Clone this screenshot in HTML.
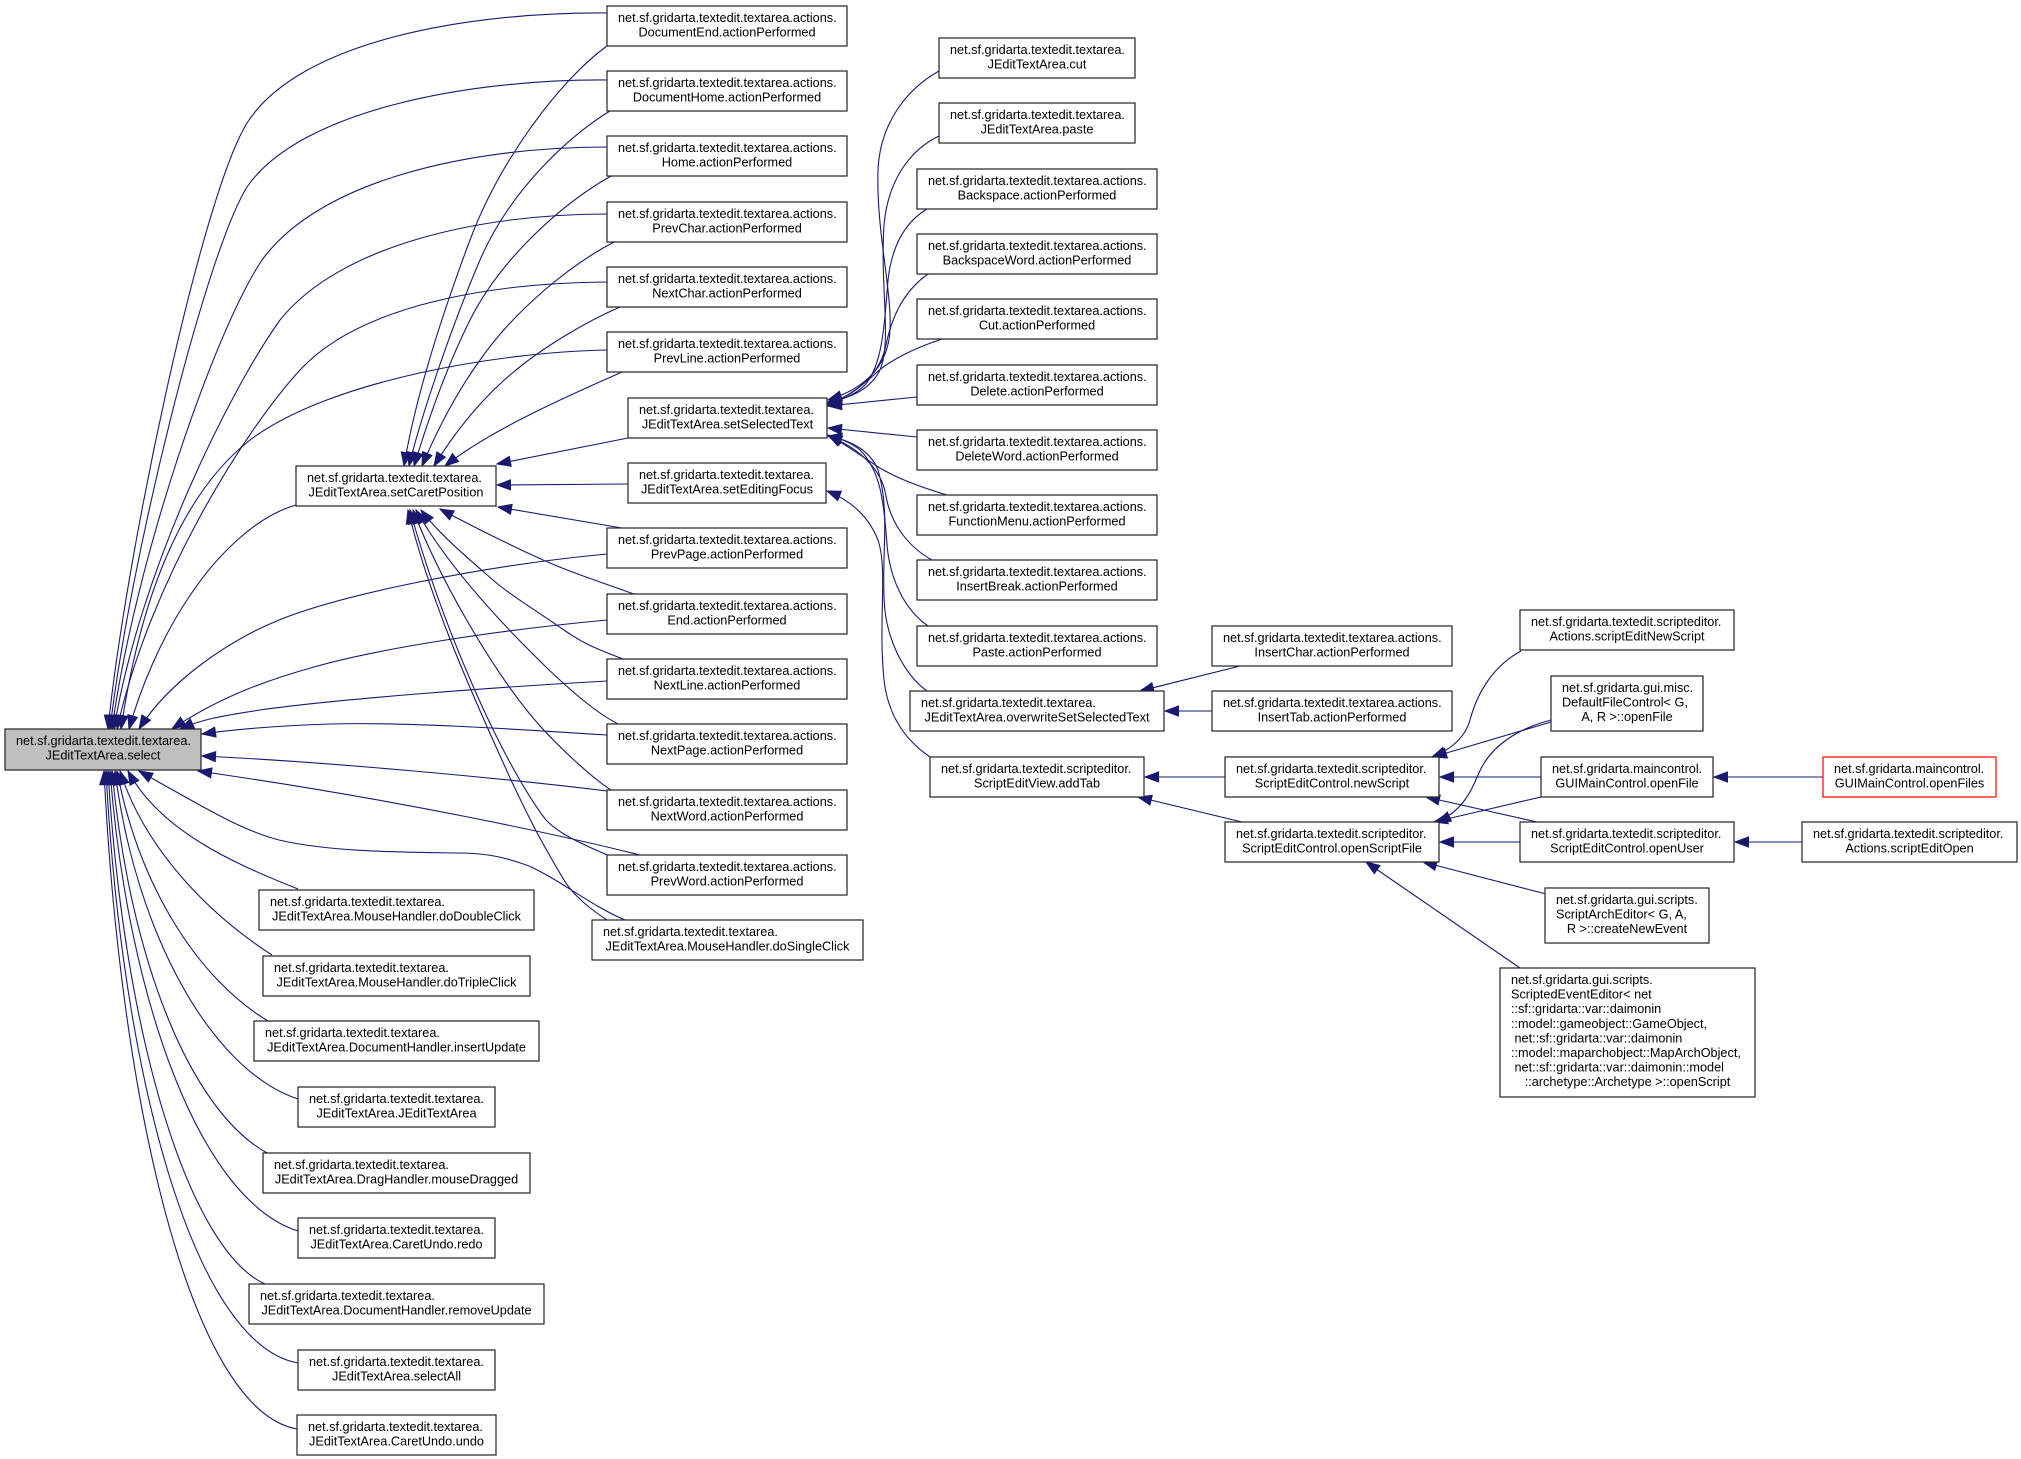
<!DOCTYPE html>
<html><head><meta charset="utf-8"><style>
html,body{margin:0;padding:0;background:#fff;}
svg{display:block;}
.e{fill:none;stroke:#191970;stroke-width:1.1;marker-end:url(#ah);}
.n{fill:#fff;stroke:#222;stroke-width:1.2;}
text{font-family:"Liberation Sans",Arial,Helvetica,sans-serif;font-size:12.7px;fill:#000;}
.c{text-anchor:middle;}
</style></head><body>
<svg width="2021" height="1459" viewBox="0 0 2021 1459" xmlns="http://www.w3.org/2000/svg">
<defs>
<marker id="ah" markerUnits="userSpaceOnUse" markerWidth="16" markerHeight="12" refX="13.5" refY="5" orient="auto" overflow="visible"><path d="M0,0 L13.5,5 L0,10 z" fill="#191970" stroke="#191970" stroke-width="1"/></marker>
</defs>
<rect width="2021" height="1459" fill="#fff"/>
<!-- edges into select (top) -->
<path class="e" d="M607,13 C470,12 300,40 247,123 C200,200 125,560 108,729"/>
<path class="e" d="M607,80 C470,79 300,110 247,187 C205,255 130,560 110,729"/>
<path class="e" d="M607,147 C470,147 320,180 262,260 C215,330 135,560 112,729"/>
<path class="e" d="M607,214 C480,214 340,245 280,320 C230,390 140,570 114,729"/>
<path class="e" d="M607,282 C490,283 360,305 300,370 C245,430 150,580 117,729"/>
<path class="e" d="M607,350 C500,352 330,380 250,440 C180,495 140,600 121,729"/>
<path class="e" d="M296,505 C260,515 220,550 189,597 C160,640 140,690 129,729"/>
<path class="e" d="M607,554 C480,566 340,595 279,620 C230,640 170,680 139,729"/>
<path class="e" d="M607,620 C500,630 380,648 314,667 C260,682 215,700 172,729"/>
<path class="e" d="M607,681 C480,688 330,700 260,710 C220,716 200,720 180,729"/>
<path class="e" d="M607,735 C500,728 400,722 330,724 C270,726 230,730 202,734"/>
<path class="e" d="M607,791 C500,778 330,762 202,756"/>
<path class="e" d="M640,855 C560,835 400,800 198,771"/>
<!-- edges into select (bottom) -->
<path class="e" d="M625,920 C590,905 560,880 529,866 C500,855 480,853 457,853 C400,852 330,852 279,840 C240,830 200,805 139,771"/>
<path class="e" d="M298,889 C230,862 160,830 128,771"/>
<path class="e" d="M272,955 C210,915 145,850 120,771"/>
<path class="e" d="M268,1021 C200,980 140,890 117,771"/>
<path class="e" d="M298,1099 C210,1070 135,930 115,771"/>
<path class="e" d="M267,1153 C190,1110 130,960 112,771"/>
<path class="e" d="M298,1231 C200,1200 128,1000 110,771"/>
<path class="e" d="M265,1284 C190,1250 124,1040 108,771"/>
<path class="e" d="M298,1363 C195,1345 122,1080 106,771"/>
<path class="e" d="M297,1429 C190,1410 120,1100 104,771"/>
<!-- edges into setCaretPosition -->
<path class="e" d="M607,46 C560,80 500,160 470,240 C440,320 415,400 404,466"/>
<path class="e" d="M610,111 C570,135 510,190 480,260 C450,330 420,420 409,466"/>
<path class="e" d="M611,176 C560,205 500,260 470,320 C445,370 425,430 414,466"/>
<path class="e" d="M614,242 C570,265 515,310 480,360 C455,395 435,435 422,466"/>
<path class="e" d="M620,307 C590,320 545,345 510,375 C475,405 450,440 434,466"/>
<path class="e" d="M622,372 C570,395 490,430 445,466"/>
<path class="e" d="M628,438 L497,464"/>
<path class="e" d="M628,484 L497,485"/>
<path class="e" d="M622,528 L498,507"/>
<path class="e" d="M634,594 C600,582 570,572 543,560 C510,545 470,525 440,509"/>
<path class="e" d="M623,659 C600,650 585,645 564,630 C540,613 510,595 493,580 C470,560 440,535 421,510"/>
<path class="e" d="M618,724 C595,712 570,690 546,667 C510,632 450,570 416,510"/>
<path class="e" d="M611,790 C595,780 555,745 529,713 C490,665 440,580 413,510"/>
<path class="e" d="M607,855 C585,845 560,835 546,820 C500,760 440,620 410,510"/>
<path class="e" d="M607,920 C595,912 575,898 564,880 C540,840 530,820 511,780 C470,690 430,600 408,510"/>
<!-- edges into setSelectedText / setEditingFocus -->
<path class="e" d="M939,71 C905,90 880,125 878,170 C876,230 892,290 890,330 C888,370 860,390 828,400"/>
<path class="e" d="M939,136 C910,150 888,180 884,225 C880,290 892,340 880,370 C870,390 850,398 828,402"/>
<path class="e" d="M927,209 C905,222 892,245 888,280 C884,330 882,365 865,385 C855,395 842,400 828,403"/>
<path class="e" d="M928,274 C905,290 892,315 886,345 C880,375 855,395 828,404"/>
<path class="e" d="M942,339 C915,348 890,360 876,373 C860,388 845,398 828,405"/>
<path class="e" d="M917,397 L828,406"/>
<path class="e" d="M917,437 L828,428"/>
<path class="e" d="M947,495 C920,487 895,477 880,468 C860,455 845,444 828,435"/>
<path class="e" d="M932,560 C905,545 890,520 886,496 C882,470 860,448 828,436"/>
<path class="e" d="M928,626 C905,610 890,580 887,545 C884,500 880,470 860,450 C850,442 840,438 828,436"/>
<path class="e" d="M927,691 C905,675 885,640 884,597 C882,550 890,510 878,470 C870,450 850,440 828,436"/>
<path class="e" d="M930,757 C905,740 888,715 884,680 C878,620 888,570 878,540 C868,515 850,500 827,491"/>
<!-- right side edges -->
<path class="e" d="M1240,666 L1140,691"/>
<path class="e" d="M1212,711 L1165,711"/>
<path class="e" d="M1225,777 L1145,777"/>
<path class="e" d="M1242,822 L1138,797"/>
<path class="e" d="M1521,651 C1495,665 1478,690 1470,720 C1465,738 1450,750 1432,757"/>
<path class="e" d="M1551,722 L1433,757"/>
<path class="e" d="M1551,720 C1520,728 1490,745 1478,775 C1470,795 1460,812 1437,822"/>
<path class="e" d="M1541,777 L1440,777"/>
<path class="e" d="M1541,797 L1434,822"/>
<path class="e" d="M1537,822 L1426,797"/>
<path class="e" d="M1520,842 L1440,842"/>
<path class="e" d="M1546,894 L1423,862"/>
<path class="e" d="M1520,968 L1366,862"/>
<path class="e" d="M1823,777 L1714,777"/>
<path class="e" d="M1802,842 L1735,842"/>

<!-- nodes -->
<rect class="n" x="5" y="729" width="196" height="41" style="fill:#bfbfbf"/>
<text x="16" y="745">net.sf.gridarta.textedit.textarea.</text><text class="c" x="103" y="759.6">JEditTextArea.select</text>

<rect class="n" x="296" y="466" width="200" height="40"/>
<text x="307" y="482">net.sf.gridarta.textedit.textarea.</text><text class="c" x="396" y="496.6">JEditTextArea.setCaretPosition</text>

<rect class="n" x="259" y="890" width="275" height="40"/>
<text x="270" y="906">net.sf.gridarta.textedit.textarea.</text><text class="c" x="396.5" y="920.6">JEditTextArea.MouseHandler.doDoubleClick</text>
<rect class="n" x="263" y="956" width="267" height="40"/>
<text x="274" y="972">net.sf.gridarta.textedit.textarea.</text><text class="c" x="396.5" y="986.6">JEditTextArea.MouseHandler.doTripleClick</text>
<rect class="n" x="254" y="1021" width="285" height="40"/>
<text x="265" y="1037">net.sf.gridarta.textedit.textarea.</text><text class="c" x="396.5" y="1051.6">JEditTextArea.DocumentHandler.insertUpdate</text>
<rect class="n" x="298" y="1087" width="197" height="40"/>
<text x="309" y="1103">net.sf.gridarta.textedit.textarea.</text><text class="c" x="396.5" y="1117.6">JEditTextArea.JEditTextArea</text>
<rect class="n" x="263" y="1153" width="267" height="40"/>
<text x="274" y="1169">net.sf.gridarta.textedit.textarea.</text><text class="c" x="396.5" y="1183.6">JEditTextArea.DragHandler.mouseDragged</text>
<rect class="n" x="298" y="1218" width="197" height="40"/>
<text x="309" y="1234">net.sf.gridarta.textedit.textarea.</text><text class="c" x="396.5" y="1248.6">JEditTextArea.CaretUndo.redo</text>
<rect class="n" x="249" y="1284" width="295" height="40"/>
<text x="260" y="1300">net.sf.gridarta.textedit.textarea.</text><text class="c" x="396.5" y="1314.6">JEditTextArea.DocumentHandler.removeUpdate</text>
<rect class="n" x="298" y="1350" width="197" height="40"/>
<text x="309" y="1366">net.sf.gridarta.textedit.textarea.</text><text class="c" x="396.5" y="1380.6">JEditTextArea.selectAll</text>
<rect class="n" x="297" y="1415" width="199" height="40"/>
<text x="308" y="1431">net.sf.gridarta.textedit.textarea.</text><text class="c" x="396.5" y="1445.6">JEditTextArea.CaretUndo.undo</text>

<rect class="n" x="607" y="6" width="240" height="40"/>
<text x="618" y="22">net.sf.gridarta.textedit.textarea.actions.</text><text class="c" x="727" y="36.6">DocumentEnd.actionPerformed</text>
<rect class="n" x="607" y="71" width="240" height="40"/>
<text x="618" y="87">net.sf.gridarta.textedit.textarea.actions.</text><text class="c" x="727" y="101.6">DocumentHome.actionPerformed</text>
<rect class="n" x="607" y="136" width="240" height="40"/>
<text x="618" y="152">net.sf.gridarta.textedit.textarea.actions.</text><text class="c" x="727" y="166.6">Home.actionPerformed</text>
<rect class="n" x="607" y="202" width="240" height="40"/>
<text x="618" y="218">net.sf.gridarta.textedit.textarea.actions.</text><text class="c" x="727" y="232.6">PrevChar.actionPerformed</text>
<rect class="n" x="607" y="267" width="240" height="40"/>
<text x="618" y="283">net.sf.gridarta.textedit.textarea.actions.</text><text class="c" x="727" y="297.6">NextChar.actionPerformed</text>
<rect class="n" x="607" y="332" width="240" height="40"/>
<text x="618" y="348">net.sf.gridarta.textedit.textarea.actions.</text><text class="c" x="727" y="362.6">PrevLine.actionPerformed</text>
<rect class="n" x="628" y="398" width="199" height="40"/>
<text x="639" y="414">net.sf.gridarta.textedit.textarea.</text><text class="c" x="727.5" y="428.6">JEditTextArea.setSelectedText</text>
<rect class="n" x="628" y="463" width="198" height="40"/>
<text x="639" y="479">net.sf.gridarta.textedit.textarea.</text><text class="c" x="727" y="493.6">JEditTextArea.setEditingFocus</text>
<rect class="n" x="607" y="528" width="240" height="40"/>
<text x="618" y="544">net.sf.gridarta.textedit.textarea.actions.</text><text class="c" x="727" y="558.6">PrevPage.actionPerformed</text>
<rect class="n" x="607" y="594" width="240" height="40"/>
<text x="618" y="610">net.sf.gridarta.textedit.textarea.actions.</text><text class="c" x="727" y="624.6">End.actionPerformed</text>
<rect class="n" x="607" y="659" width="240" height="40"/>
<text x="618" y="675">net.sf.gridarta.textedit.textarea.actions.</text><text class="c" x="727" y="689.6">NextLine.actionPerformed</text>
<rect class="n" x="607" y="724" width="240" height="40"/>
<text x="618" y="740">net.sf.gridarta.textedit.textarea.actions.</text><text class="c" x="727" y="754.6">NextPage.actionPerformed</text>
<rect class="n" x="607" y="790" width="240" height="40"/>
<text x="618" y="806">net.sf.gridarta.textedit.textarea.actions.</text><text class="c" x="727" y="820.6">NextWord.actionPerformed</text>
<rect class="n" x="607" y="855" width="240" height="40"/>
<text x="618" y="871">net.sf.gridarta.textedit.textarea.actions.</text><text class="c" x="727" y="885.6">PrevWord.actionPerformed</text>
<rect class="n" x="592" y="920" width="271" height="40"/>
<text x="603" y="936">net.sf.gridarta.textedit.textarea.</text><text class="c" x="727.5" y="950.6">JEditTextArea.MouseHandler.doSingleClick</text>

<rect class="n" x="939" y="38" width="196" height="40"/>
<text x="950" y="54">net.sf.gridarta.textedit.textarea.</text><text class="c" x="1037" y="68.6">JEditTextArea.cut</text>
<rect class="n" x="939" y="103" width="196" height="40"/>
<text x="950" y="119">net.sf.gridarta.textedit.textarea.</text><text class="c" x="1037" y="133.6">JEditTextArea.paste</text>
<rect class="n" x="917" y="169" width="240" height="40"/>
<text x="928" y="185">net.sf.gridarta.textedit.textarea.actions.</text><text class="c" x="1037" y="199.6">Backspace.actionPerformed</text>
<rect class="n" x="917" y="234" width="240" height="40"/>
<text x="928" y="250">net.sf.gridarta.textedit.textarea.actions.</text><text class="c" x="1037" y="264.6">BackspaceWord.actionPerformed</text>
<rect class="n" x="917" y="299" width="240" height="40"/>
<text x="928" y="315">net.sf.gridarta.textedit.textarea.actions.</text><text class="c" x="1037" y="329.6">Cut.actionPerformed</text>
<rect class="n" x="917" y="365" width="240" height="40"/>
<text x="928" y="381">net.sf.gridarta.textedit.textarea.actions.</text><text class="c" x="1037" y="395.6">Delete.actionPerformed</text>
<rect class="n" x="917" y="430" width="240" height="40"/>
<text x="928" y="446">net.sf.gridarta.textedit.textarea.actions.</text><text class="c" x="1037" y="460.6">DeleteWord.actionPerformed</text>
<rect class="n" x="917" y="495" width="240" height="40"/>
<text x="928" y="511">net.sf.gridarta.textedit.textarea.actions.</text><text class="c" x="1037" y="525.6">FunctionMenu.actionPerformed</text>
<rect class="n" x="917" y="560" width="240" height="40"/>
<text x="928" y="576">net.sf.gridarta.textedit.textarea.actions.</text><text class="c" x="1037" y="590.6">InsertBreak.actionPerformed</text>
<rect class="n" x="917" y="626" width="240" height="40"/>
<text x="928" y="642">net.sf.gridarta.textedit.textarea.actions.</text><text class="c" x="1037" y="656.6">Paste.actionPerformed</text>
<rect class="n" x="910" y="691" width="254" height="40"/>
<text x="921" y="707">net.sf.gridarta.textedit.textarea.</text><text class="c" x="1037" y="721.6">JEditTextArea.overwriteSetSelectedText</text>
<rect class="n" x="930" y="757" width="214" height="40"/>
<text x="941" y="773">net.sf.gridarta.textedit.scripteditor.</text><text class="c" x="1037" y="787.6">ScriptEditView.addTab</text>

<rect class="n" x="1212" y="626" width="240" height="40"/>
<text x="1223" y="642">net.sf.gridarta.textedit.textarea.actions.</text><text class="c" x="1332" y="656.6">InsertChar.actionPerformed</text>
<rect class="n" x="1212" y="691" width="240" height="40"/>
<text x="1223" y="707">net.sf.gridarta.textedit.textarea.actions.</text><text class="c" x="1332" y="721.6">InsertTab.actionPerformed</text>
<rect class="n" x="1225" y="757" width="214" height="40"/>
<text x="1236" y="773">net.sf.gridarta.textedit.scripteditor.</text><text class="c" x="1332" y="787.6">ScriptEditControl.newScript</text>
<rect class="n" x="1225" y="822" width="214" height="40"/>
<text x="1236" y="838">net.sf.gridarta.textedit.scripteditor.</text><text class="c" x="1332" y="852.6">ScriptEditControl.openScriptFile</text>

<rect class="n" x="1520" y="610" width="214" height="40"/>
<text x="1531" y="626">net.sf.gridarta.textedit.scripteditor.</text><text class="c" x="1627" y="640.6">Actions.scriptEditNewScript</text>
<rect class="n" x="1551" y="676" width="152" height="55"/>
<text x="1562" y="692">net.sf.gridarta.gui.misc.</text><text x="1562" y="706.6">DefaultFileControl&lt; G,</text><text class="c" x="1627" y="721.2">A, R &gt;::openFile</text>
<rect class="n" x="1541" y="757" width="172" height="40"/>
<text x="1552" y="773">net.sf.gridarta.maincontrol.</text><text class="c" x="1627" y="787.6">GUIMainControl.openFile</text>
<rect class="n" x="1520" y="822" width="214" height="40"/>
<text x="1531" y="838">net.sf.gridarta.textedit.scripteditor.</text><text class="c" x="1627" y="852.6">ScriptEditControl.openUser</text>
<rect class="n" x="1545" y="888" width="164" height="55"/>
<text x="1556" y="904">net.sf.gridarta.gui.scripts.</text><text x="1556" y="918.6">ScriptArchEditor&lt; G, A,</text><text class="c" x="1627" y="933.2">R &gt;::createNewEvent</text>
<rect class="n" x="1500" y="968" width="255" height="129"/>
<text x="1511" y="984">net.sf.gridarta.gui.scripts.</text>
<text x="1511" y="998.6">ScriptedEventEditor&lt; net</text>
<text x="1511" y="1013.2">::sf::gridarta::var::daimonin</text>
<text x="1511" y="1027.8">::model::gameobject::GameObject,</text>
<text x="1514.5" y="1042.4">net::sf::gridarta::var::daimonin</text>
<text x="1511" y="1057">::model::maparchobject::MapArchObject,</text>
<text x="1514.5" y="1071.6">net::sf::gridarta::var::daimonin::model</text>
<text class="c" x="1627.5" y="1086.2">::archetype::Archetype &gt;::openScript</text>

<rect class="n" x="1823" y="757" width="173" height="40" style="stroke:#ff0000"/>
<text x="1834" y="773">net.sf.gridarta.maincontrol.</text><text class="c" x="1909.5" y="787.6">GUIMainControl.openFiles</text>
<rect class="n" x="1802" y="822" width="215" height="40"/>
<text x="1813" y="838">net.sf.gridarta.textedit.scripteditor.</text><text class="c" x="1909.5" y="852.6">Actions.scriptEditOpen</text>
</svg>
</body></html>
